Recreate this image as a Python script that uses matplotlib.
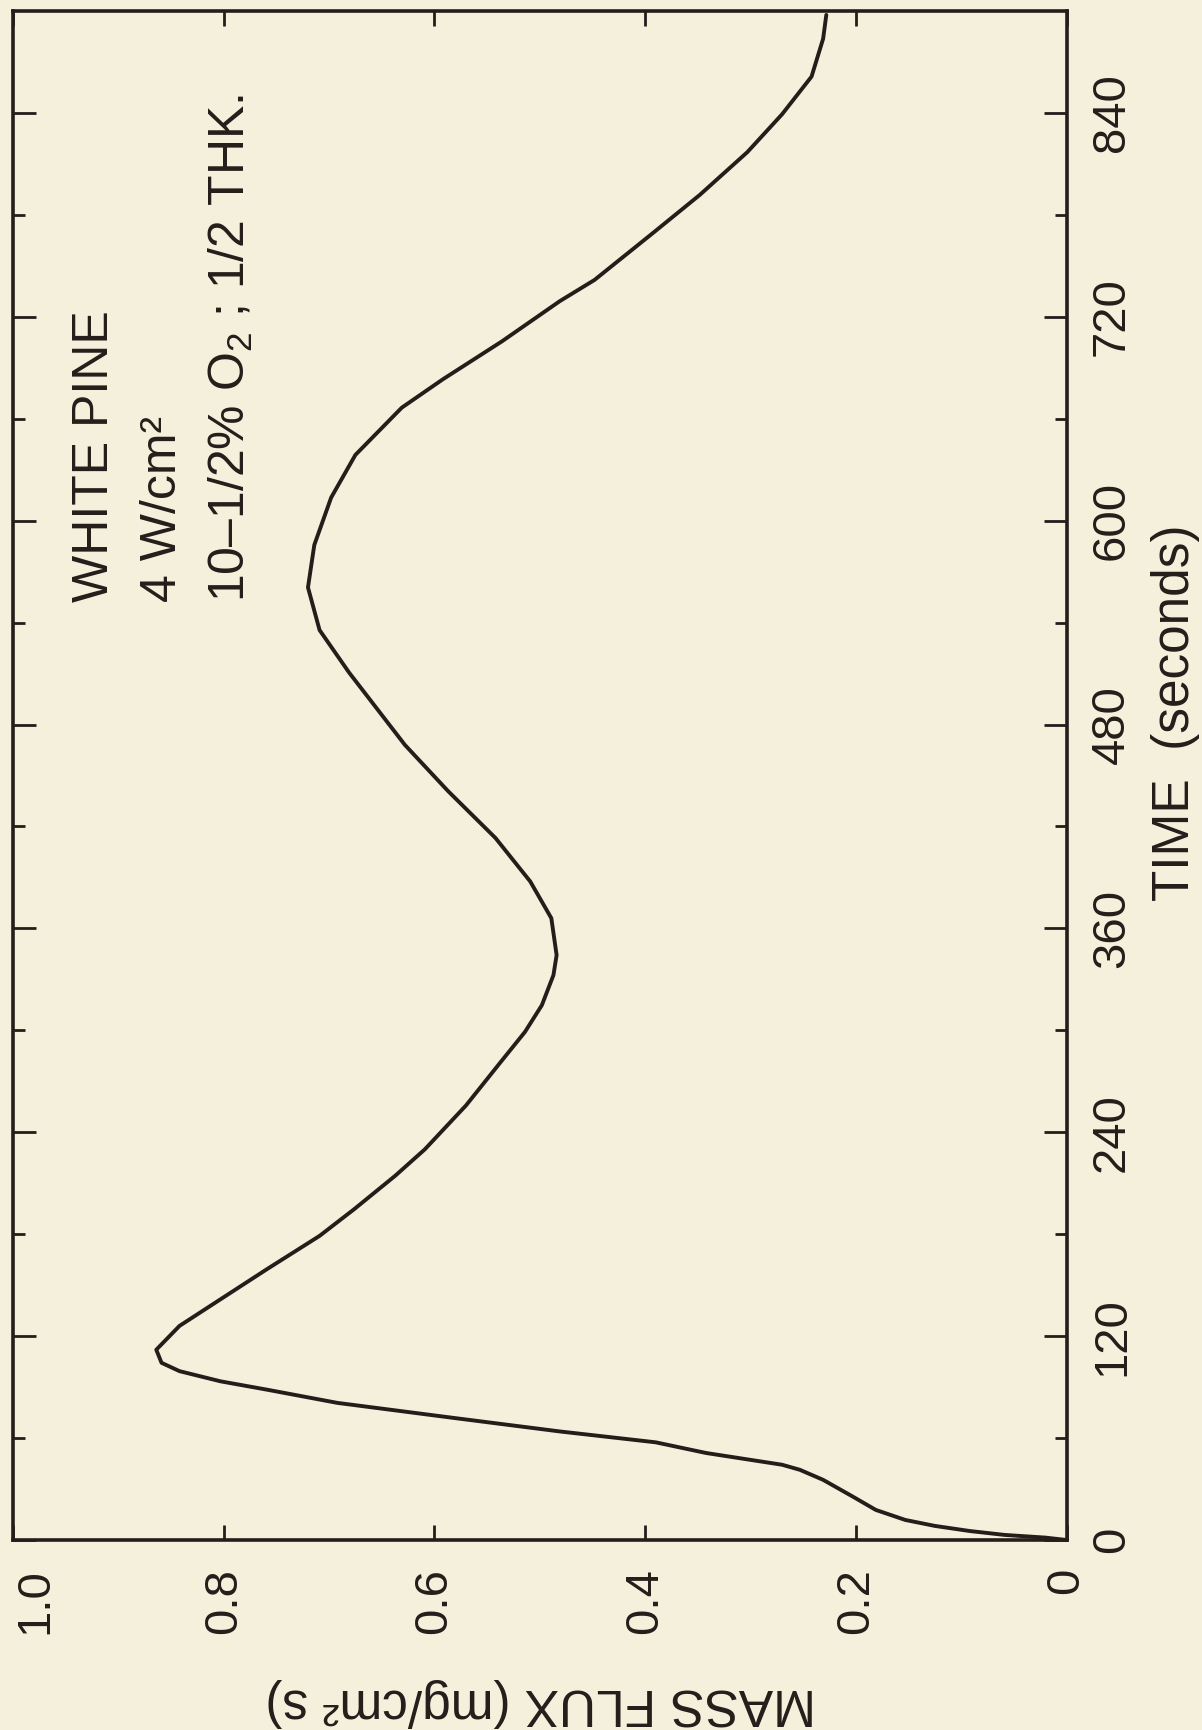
import matplotlib
matplotlib.use("Agg")
import matplotlib.pyplot as plt

plt.rcParams['font.family'] = ['Liberation Sans', 'DejaVu Sans']
plt.rcParams['mathtext.fontset'] = 'custom'
plt.rcParams['mathtext.rm'] = 'Liberation Sans'
plt.rcParams['mathtext.it'] = 'Liberation Sans'

# ---- data ----
time_s = [0, 1.4, 3.0, 5.3, 8.3, 11.8, 17.7, 25.6, 35.4, 41.3, 44.3, 51.2, 57.5,
          63.9, 71.8, 80.7, 88.5, 93.4, 99.4, 104.3, 112, 126, 141.7, 159.4, 179,
          194.8, 214.5, 230, 255.8, 281.4, 299.1, 314.8, 332.5, 344.3, 366, 387.6,
          413.2, 440.8, 468, 510.6, 535.6, 560.7, 585.7, 613.6, 638.7, 666.5, 683.2,
          705.5, 729.2, 741.7, 769.6, 791.8, 816.9, 839.2, 861.4, 883.7, 897.7]
mass_flux = [0, 0.020, 0.059, 0.092, 0.125, 0.153, 0.181, 0.203, 0.231, 0.253, 0.270,
             0.342, 0.390, 0.481, 0.581, 0.692, 0.759, 0.803, 0.842, 0.859, 0.864,
             0.842, 0.803, 0.759, 0.709, 0.676, 0.637, 0.609, 0.570, 0.537, 0.514,
             0.498, 0.487, 0.484, 0.489, 0.509, 0.542, 0.587, 0.628, 0.681, 0.709,
             0.720, 0.714, 0.698, 0.675, 0.631, 0.592, 0.536, 0.481, 0.448, 0.392,
             0.348, 0.303, 0.270, 0.242, 0.231, 0.228]

time_ticks = [0, 120, 240, 360, 480, 600, 720, 840]
time_minor = [60, 180, 300, 420, 540, 660, 780]
time_labels = ['0', '120', '240', '360', '480', '600', '720', '840']
flux_ticks = [0, 0.2, 0.4, 0.6, 0.8, 1.0]
flux_labels = ['0', '0.2', '0.4', '0.6', '0.8', '1.0']

annot_lines = ['WHITE PINE', '4 W/cm\u00b2', '10\u20131/2% O$_2$ ; 1/2 THK.']

bg = '#f5f0dc'
ink = '#231e1a'

W, H = 1202, 1730
fig = plt.figure(figsize=(W / 100, H / 100), dpi=100, facecolor=bg)
ax_l, ax_r, ax_t, ax_b = 13, 1066.5, 11, 1540
ax = fig.add_axes([ax_l / W, (H - ax_b) / H, (ax_r - ax_l) / W, (ax_b - ax_t) / H])
ax.set_facecolor(bg)

# time runs vertically, mass flux horizontally (figure is rotated)
ax.plot(mass_flux, time_s, color=ink, lw=2.8, solid_joinstyle='round',
        solid_capstyle='round')
ax.set_xlim(1.0, 0.0)
ax.set_ylim(0, 900)

for sp in ax.spines.values():
    sp.set_linewidth(2.6)
    sp.set_color(ink)

ax.set_xticks(flux_ticks)
ax.set_xticklabels(flux_labels)
ax.tick_params(axis='x', direction='in', length=11, width=2, color=ink,
               top=True, bottom=True, labeltop=False, labelbottom=True,
               labelsize=34, pad=20, labelrotation=90, labelcolor=ink)
# the 1.0 label sits inside the figure edge
ax.get_xticklabels()[-1].set_horizontalalignment('left')

ax.yaxis.tick_right()
ax.set_yticks(time_ticks)
ax.set_yticklabels(time_labels)
ax.set_yticks(time_minor, minor=True)
ax.tick_params(axis='y', which='major', direction='in', length=16.5, width=2,
               color=ink, left=True, right=True, labelleft=False,
               labelright=True, labelsize=34, pad=17, labelrotation=90,
               labelcolor=ink)
ax.tick_params(axis='y', which='minor', direction='in', length=8.5, width=2,
               color=ink, left=True, right=True)
for lab in ax.get_yticklabels():
    lab.set_verticalalignment('center')
    lab.set_horizontalalignment('left')

# axis titles
fig.text(1175 / W, 1 - 713 / H, 'TIME  (seconds)', rotation=90, ha='center',
         va='center', fontsize=37, color=ink)
fig.text(540.5 / W, 1 - 1702 / H, 'MASS FLUX (mg/cm\u00b2 s)', rotation=180,
         ha='center', va='center', fontsize=37, color=ink)

# annotation
annot_flux = [0.922, 0.858, 0.793]
for f, s in zip(annot_flux, annot_lines):
    ax.text(f, 552, s, rotation=90, rotation_mode='anchor', ha='left',
            va='center', fontsize=36, color=ink)

fig.savefig('out.png', dpi=100, facecolor=bg)
